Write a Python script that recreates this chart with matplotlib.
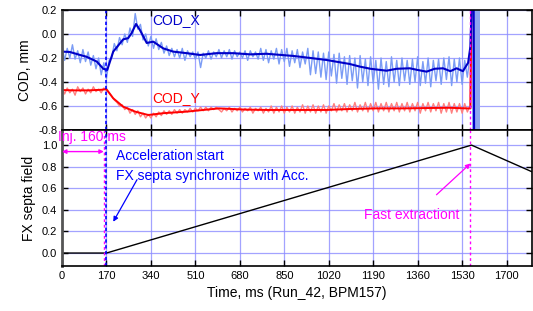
import numpy as np
import matplotlib
matplotlib.use("Agg")
import matplotlib.pyplot as plt

plt.rcParams['font.family'] = ['Liberation Sans', 'DejaVu Sans']

# --- COD data (mm), raw traces sampled every 10 ms from t = 0 ---
cod_x_raw = [
    -0.10, -0.22, -0.12, -0.20, -0.09, -0.21, -0.14, -0.24, -0.13, -0.23,
    -0.15, -0.26, -0.18, -0.29, -0.20, -0.34, -0.24, -0.37,
    -0.22, -0.20, -0.08, -0.14, -0.03, -0.09, 0.00, -0.07, 0.05, -0.02,
    0.17, 0.04, 0.08, -0.05, 0.00, -0.10, -0.02, -0.12, -0.04, -0.13,
    -0.07, -0.16, -0.10, -0.18, -0.12, -0.19, -0.13, -0.20, -0.12, -0.22,
    -0.14, -0.19, -0.15, -0.21, -0.15, -0.28, -0.16, -0.20, -0.14, -0.21,
    -0.15, -0.19, -0.13, -0.20, -0.14, -0.19, -0.13, -0.21, -0.14, -0.19,
    -0.15, -0.20, -0.14, -0.22, -0.14, -0.19, -0.15, -0.21, -0.12, -0.22,
    -0.13, -0.24, -0.14, -0.21, -0.12, -0.25, -0.13, -0.23, -0.12, -0.27,
    -0.14, -0.24, -0.13, -0.28, -0.15, -0.25, -0.12, -0.34, -0.14, -0.33,
    -0.15, -0.36, -0.16, -0.38, -0.15, -0.35, -0.17, -0.41, -0.16, -0.37,
    -0.19, -0.42, -0.18, -0.39, -0.20, -0.45, -0.18, -0.40, -0.21, -0.43,
    -0.19, -0.41, -0.22, -0.46, -0.20, -0.42, -0.23, -0.44, -0.19, -0.40,
    -0.22, -0.43, -0.20, -0.39, -0.22, -0.42, -0.21, -0.40, -0.19, -0.43,
    -0.23, -0.41, -0.20, -0.44, -0.22, -0.39, -0.21, -0.42, -0.20, -0.38,
    -0.19, -0.43, -0.21, -0.40, -0.20, -0.42, -0.22, -0.36, -0.18,
]
cod_y_raw = [
    -0.44, -0.50, -0.45, -0.49, -0.46, -0.51, -0.44, -0.48, -0.45, -0.50,
    -0.46, -0.49, -0.44, -0.48, -0.46, -0.49, -0.45, -0.47,
    -0.49, -0.52, -0.55, -0.57, -0.60, -0.59, -0.63, -0.61, -0.66, -0.63,
    -0.67, -0.64, -0.69, -0.66, -0.70, -0.67, -0.70, -0.66, -0.69, -0.65,
    -0.68, -0.64, -0.67, -0.64, -0.67, -0.63, -0.66, -0.63, -0.66, -0.63,
    -0.65, -0.62, -0.65, -0.62, -0.64, -0.61, -0.64, -0.61, -0.64, -0.61,
    -0.63, -0.61, -0.63, -0.65, -0.62, -0.64, -0.61, -0.65, -0.62, -0.64,
    -0.61, -0.65, -0.62, -0.64, -0.61, -0.66, -0.62, -0.64, -0.61, -0.66,
    -0.62, -0.65, -0.60, -0.66, -0.61, -0.65, -0.60, -0.66, -0.61, -0.65,
    -0.60, -0.66, -0.61, -0.65, -0.59, -0.66, -0.60, -0.65, -0.59, -0.66,
    -0.60, -0.65, -0.59, -0.66, -0.60, -0.64, -0.58, -0.65, -0.59, -0.64,
    -0.58, -0.65, -0.59, -0.64, -0.57, -0.65, -0.59, -0.64, -0.57, -0.65,
    -0.58, -0.64, -0.57, -0.65, -0.58, -0.64, -0.57, -0.65, -0.58, -0.64,
    -0.57, -0.65, -0.58, -0.64, -0.57, -0.65, -0.58, -0.64, -0.57, -0.66,
    -0.58, -0.64, -0.57, -0.65, -0.58, -0.64, -0.57, -0.66, -0.58, -0.65,
    -0.57, -0.66, -0.58, -0.65, -0.58, -0.66, -0.58, -0.65, -0.60,
]
# beam loss at extraction: traces jump off scale
loss_t = [1566, 1572]
loss_x = [0.35, 0.35]
loss_y = [0.35, 0.35]

# smoothed traces
sm_t = [0, 30, 69, 94, 133, 158, 173, 196, 234, 253, 266, 283, 298, 324, 349,
        387, 425, 477, 528, 591, 655, 720, 782, 884, 950, 1012, 1060, 1100,
        1139, 1180, 1241, 1280, 1330, 1360, 1394, 1425, 1457, 1485, 1509,
        1533, 1553, 1562, 1568, 1574, 1576]
sm_x = [-0.147, -0.15, -0.175, -0.19, -0.23, -0.29, -0.30, -0.147, -0.045,
        -0.035, 0.006, 0.083, 0.033, -0.075, -0.064, -0.12, -0.147, -0.16,
        -0.175, -0.16, -0.16, -0.17, -0.165, -0.183, -0.20, -0.217, -0.235,
        -0.25, -0.272, -0.29, -0.306, -0.29, -0.286, -0.30, -0.314, -0.29,
        -0.286, -0.31, -0.286, -0.31, -0.24, -0.10, 0.35, 0.35, -0.95]
smy_t = [0, 50, 100, 150, 170, 196, 234, 280, 330, 387, 477, 600, 700, 782,
         900, 1012, 1100, 1200, 1300, 1400, 1480, 1550, 1562, 1566]
sm_y = [-0.467, -0.47, -0.47, -0.465, -0.46, -0.536, -0.606, -0.647, -0.675,
        -0.66, -0.647, -0.62, -0.63, -0.633, -0.633, -0.633, -0.625, -0.62,
        -0.62, -0.617, -0.615, -0.62, -0.62, 0.35]
band_t = [1566, 1598]   # blurred region after extraction

# --- FX septa field (normalised) ---
fx_t = [0, 170, 1566, 1800]
fx_v = [0.0, 0.0, 1.0, 0.75]

t_inj = 160
t_acc = 170
t_ext = 1562

raw_t = np.arange(len(cod_x_raw)) * 10
rawy_t = np.arange(len(cod_y_raw)) * 10

fig = plt.figure(figsize=(5.33, 3.11), dpi=100)
ax1 = fig.add_axes([0.1163, 0.582, 0.8817, 0.386])
ax2 = fig.add_axes([0.1163, 0.1447, 0.8817, 0.4373])

grid_kw = dict(color='#8c8cff', linewidth=0.9, alpha=0.8)
xticks = np.arange(0, 1701, 170)

for ax in (ax1, ax2):
    ax.set_xlim(0, 1797)
    ax.set_xticks(xticks)
    ax.grid(True, **grid_kw)
    ax.set_axisbelow(True)
    ax.tick_params(direction='in', top=True, right=True, length=4,
                   labelsize=8, width=1)
    for s in ax.spines.values():
        s.set_linewidth(1.2)
    ax.spines['left'].set_color('#555555')
    ax.spines['left'].set_linewidth(2)

# top panel
ax1.fill_betweenx([-0.8, 0.2], band_t[0], band_t[1], color='#8fa6f0', lw=0)
ax1.plot(np.r_[raw_t, loss_t], np.r_[cod_x_raw, loss_x], color='#7b9cf5', lw=1.0)
ax1.plot(np.r_[rawy_t, loss_t], np.r_[cod_y_raw, loss_y], color='#ff8080', lw=1.0)
ax1.plot(smy_t, sm_y, color='#ff0000', lw=1.4)
ax1.plot(sm_t, sm_x, color='#0000c8', lw=1.5)
ax1.axvline(t_acc, color='#0000ff', ls=(0, (2, 1.5)), lw=1.2)
ax1.axvline(t_ext, color='#ff00ff', ls=(0, (2, 2)), lw=1)
ax1.set_ylim(-0.8, 0.2)
ax1.set_yticks(np.arange(-0.8, 0.21, 0.2))
ax1.set_yticklabels(['-0.8', '-0.6', '-0.4', '-0.2', '0.0', '0.2'])
ax1.tick_params(labelbottom=False)
ax1.set_ylabel('COD, mm', fontsize=10)
ax1.text(344, 0.12, 'COD_X', color='#0000c8', fontsize=10, va='center')
ax1.text(344, -0.535, 'COD_Y', color='#ff0000', fontsize=10, va='center')

# bottom panel
ax2.plot(fx_t, fx_v, color='black', lw=1)
ax2.axvline(t_inj, color='#ff00ff', ls=(0, (2, 2)), lw=1)
ax2.axvline(t_acc, color='#0000ff', ls=(0, (2, 1.5)), lw=1.2)
ax2.axvline(t_ext, color='#ff00ff', ls=(0, (2, 2)), lw=1)
ax2.set_ylim(-0.12, 1.14)
ax2.set_yticks(np.arange(0, 1.01, 0.2))
ax2.set_yticklabels(['0.0', '0.2', '0.4', '0.6', '0.8', '1.0'])
ax2.set_ylabel('FX septa field', fontsize=10)
ax2.set_xlabel('Time, ms (Run_42, BPM157)', fontsize=10)

ax2.annotate('', xy=(t_inj, 0.94), xytext=(0, 0.94),
             arrowprops=dict(arrowstyle='<|-|>', color='#ff00ff', lw=1,
                             mutation_scale=6, shrinkA=0, shrinkB=0))
ax2.text(-15, 1.075, 'Inj. 160 ms', color='#ff00ff', fontsize=10,
         va='center', ha='left', clip_on=False)
ax2.text(205, 0.9, 'Acceleration start', color='#0000ff', fontsize=10,
         va='center')
ax2.text(205, 0.716, 'FX septa synchronize with Acc.', color='#0000ff',
         fontsize=10, va='center')
ax2.annotate('', xy=(196, 0.29), xytext=(287, 0.68),
             arrowprops=dict(arrowstyle='-|>', color='#0000ff', lw=0.9,
                             mutation_scale=7, shrinkA=0, shrinkB=0))
ax2.text(1336, 0.35, 'Fast extractiont', color='#ff00ff', fontsize=10,
         va='center', ha='center')
ax2.annotate('', xy=(t_ext, 0.83), xytext=(1432, 0.54),
             arrowprops=dict(arrowstyle='-|>', color='#ff00ff', lw=0.9,
                             mutation_scale=7, shrinkA=0, shrinkB=0))

fig.savefig('out.png', dpi=100)
